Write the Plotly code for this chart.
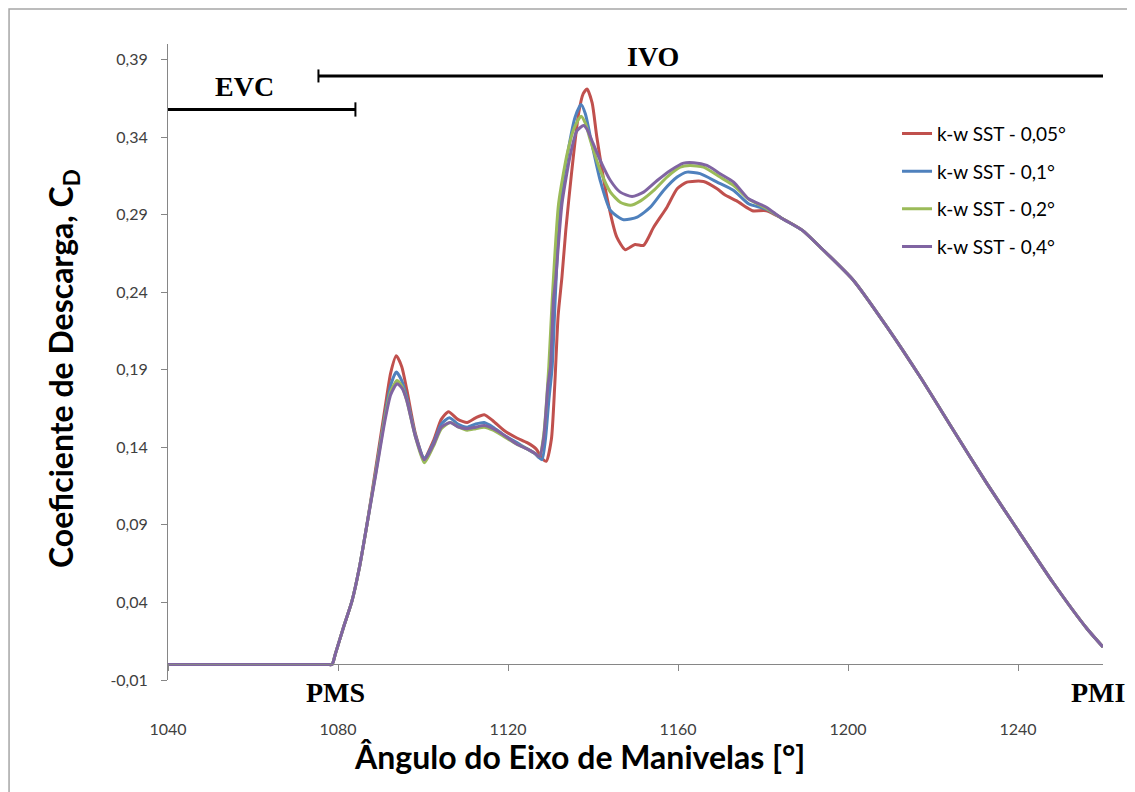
import plotly.graph_objects as go

# ---- data ----
series_names = ["k-w SST - 0,05°", "k-w SST - 0,1°", "k-w SST - 0,2°", "k-w SST - 0,4°"]
series_colors = ["#C0504D", "#4F81BD", "#9BBB59", "#8064A2"]

# shared start (closed valves) and shared tail (all meshes agree)
angle_start = [1040, 1077.5, 1078.6, 1079.4, 1081.3, 1083.3, 1085.0, 1086.8]
cd_start = [0.0, 0.0, 0.0, 0.007, 0.024, 0.041, 0.062, 0.090]
angle_tail = [1184.2, 1189.2, 1193.5, 1201.3, 1209.2, 1217.0, 1224.8, 1232.7, 1240.5, 1248.4, 1256.2, 1260.0]
cd_tail = [0.288, 0.280, 0.269, 0.2476, 0.2175, 0.1853, 0.151, 0.1166, 0.0844, 0.0522, 0.0232, 0.0113]

angle_005 = [1088.8, 1091.1, 1092.4, 1093.7, 1095.0, 1096.2, 1098.2, 1100.3, 1102.5, 1104.3, 1106.0,
             1108.2, 1110.4, 1112.4, 1114.4, 1116.5, 1119.0, 1122.1, 1124.5, 1126.6, 1128.0, 1129.0,
             1130.2, 1131.0, 1131.8, 1132.7, 1133.6, 1135.0, 1136.6, 1137.7, 1138.6, 1139.8, 1140.9,
             1143.3, 1145.6, 1147.6, 1149.9, 1151.9, 1154.3, 1157.4, 1159.8, 1162.1, 1166.0, 1169.2,
             1171.0, 1173.7, 1176.2, 1177.5, 1180.8]
cd_005 = [0.125, 0.166, 0.188, 0.199, 0.192, 0.177, 0.149, 0.133, 0.1445, 0.158, 0.163,
          0.158, 0.156, 0.159, 0.161, 0.157, 0.151, 0.146, 0.143, 0.139, 0.133, 0.131,
          0.145, 0.180, 0.225, 0.250, 0.280, 0.318, 0.355, 0.368, 0.371, 0.362, 0.340,
          0.301, 0.2755, 0.2674, 0.2708, 0.2702, 0.282, 0.2948, 0.3067, 0.311, 0.3114, 0.3067,
          0.3028, 0.299, 0.2945, 0.2925, 0.2925]

angle_01 = [1088.8, 1091.1, 1092.4, 1093.7, 1095.0, 1096.2, 1098.2, 1100.3, 1102.5, 1104.3, 1106.2,
            1108.2, 1110.4, 1112.4, 1114.4, 1116.5, 1119.0, 1122.1, 1124.5, 1126.3, 1127.2, 1128.0,
            1128.8, 1129.6, 1130.4, 1131.1, 1132.3, 1134.3, 1135.8, 1137.2, 1138.2, 1139.4, 1141.7,
            1144.1, 1147.2, 1150.4, 1153.5, 1156.6, 1159.8, 1162.1, 1165.2, 1169.2, 1173.1, 1176.6,
            1180.8]
cd_01 = [0.123, 0.162, 0.180, 0.1885, 0.183, 0.172, 0.148, 0.133, 0.143, 0.155, 0.159,
         0.155, 0.153, 0.155, 0.156, 0.153, 0.148, 0.143, 0.139, 0.136, 0.1335, 0.132,
         0.145, 0.170, 0.192, 0.235, 0.297, 0.3335, 0.353, 0.361, 0.355, 0.340, 0.312,
         0.2927, 0.2867, 0.2884, 0.2948, 0.3056, 0.3142, 0.3174, 0.3164, 0.311, 0.3056, 0.297,
         0.2935]

angle_02 = [1088.8, 1091.1, 1092.4, 1093.9, 1095.1, 1096.2, 1098.2, 1100.3, 1102.5, 1104.3, 1106.4,
            1108.4, 1110.4, 1112.4, 1114.4, 1116.5, 1119.0, 1122.1, 1124.5, 1126.4, 1127.4, 1128.4,
            1129.6, 1130.4, 1131.9, 1133.9, 1135.6, 1137.2, 1138.2, 1139.4, 1141.7, 1144.1, 1146.4,
            1148.8, 1151.1, 1154.3, 1157.4, 1160.5, 1162.8, 1166.0, 1169.9, 1173.1, 1176.6, 1180.8]
cd_02 = [0.122, 0.160, 0.176, 0.183, 0.179, 0.170, 0.147, 0.130, 0.141, 0.152, 0.156,
         0.153, 0.151, 0.152, 0.153, 0.151, 0.147, 0.142, 0.139, 0.136, 0.134, 0.148,
         0.192, 0.235, 0.297, 0.329, 0.346, 0.3535, 0.349, 0.3378, 0.3185, 0.3045, 0.298,
         0.296, 0.2987, 0.3056, 0.3142, 0.3206, 0.3217, 0.3206, 0.3142, 0.3088, 0.300, 0.294]

angle_04 = [1088.8, 1091.1, 1092.4, 1093.9, 1095.1, 1096.2, 1098.2, 1100.3, 1102.5, 1104.3, 1106.4,
            1108.4, 1110.4, 1112.4, 1114.4, 1116.5, 1119.0, 1122.1, 1124.5, 1126.4, 1127.4, 1128.4,
            1129.4, 1130.0, 1130.7, 1131.2, 1132.7, 1134.7, 1136.2, 1137.8, 1138.6, 1139.4, 1141.7,
            1144.1, 1146.4, 1149.2, 1151.9, 1155.1, 1158.2, 1161.3, 1163.7, 1166.8, 1169.9, 1173.1,
            1176.6, 1180.8]
cd_04 = [0.121, 0.158, 0.174, 0.181, 0.178, 0.170, 0.147, 0.132, 0.142, 0.153, 0.156,
         0.153, 0.152, 0.153, 0.154, 0.152, 0.148, 0.142, 0.139, 0.136, 0.134, 0.146,
         0.180, 0.192, 0.235, 0.2476, 0.297, 0.329, 0.344, 0.3475, 0.345, 0.340, 0.325,
         0.312, 0.3045, 0.3017, 0.3045, 0.312, 0.3185, 0.3232, 0.3235, 0.3217, 0.3164, 0.311,
         0.3002, 0.2948]

series_angles = [angle_005, angle_01, angle_02, angle_04]
series_cd = [cd_005, cd_01, cd_02, cd_04]

x_ticks = [1040, 1080, 1120, 1160, 1200, 1240]
y_ticks = [-0.01, 0.04, 0.09, 0.14, 0.19, 0.24, 0.29, 0.34, 0.39]
y_tick_labels = ["-0,01", "0,04", "0,09", "0,14", "0,19", "0,24", "0,29", "0,34", "0,39"]

# valve event bars (EVC = exhaust valve closing, IVO = intake valve open)
evc_span = [1040, 1084.1]
evc_level = 0.3578
ivo_span = [1075.4, 1260]
ivo_level = 0.3794

fig = go.Figure()

for name, color, ang, cd in zip(series_names, series_colors, series_angles, series_cd):
    fig.add_trace(go.Scatter(
        x=angle_start + ang + angle_tail,
        y=cd_start + cd + cd_tail,
        mode="lines",
        name=name,
        legendgroup=name,
        line=dict(color=color, width=3, shape="spline", smoothing=0.6),
    ))

# EVC / IVO bars with end caps
bar_line = dict(color="black", width=3)
cap_line = dict(color="black", width=2)
fig.add_shape(type="line", x0=evc_span[0], x1=evc_span[1], y0=evc_level, y1=evc_level, line=bar_line)
fig.add_shape(type="line", x0=evc_span[1], x1=evc_span[1], y0=evc_level - 0.0046, y1=evc_level + 0.0046,
              line=cap_line)
fig.add_shape(type="line", x0=ivo_span[0], x1=ivo_span[1], y0=ivo_level, y1=ivo_level, line=bar_line)
fig.add_shape(type="line", x0=ivo_span[0], x1=ivo_span[0], y0=ivo_level - 0.0042, y1=ivo_level + 0.0042,
              line=cap_line)

# chart area border (left and top edges visible)
fig.add_shape(type="rect", xref="paper", yref="paper", x0=-0.1700, x1=1.2, y0=-0.4, y1=1.0550,
              line=dict(color="#A6A6A6", width=1.5), layer="below")

serif = dict(family="Liberation Serif", size=28, color="black")
for txt, xv, yv in [("EVC", 1058, 0.3726), ("IVO", 1154.2, 0.392)]:
    fig.add_annotation(x=xv, y=yv, text=f"<b>{txt}</b>", showarrow=False, font=serif,
                       xanchor="center", yanchor="middle")
for txt, xv in [("PMS", 1079.4), ("PMI", 1258.8)]:
    fig.add_annotation(x=xv, y=-0.0189, yref="paper", text=f"<b>{txt}</b>", showarrow=False,
                       font=serif, xanchor="center", yanchor="middle")

title_font = dict(family="Lato", size=32, color="black")
fig.add_annotation(x=0.4406, y=-0.121, xref="paper", yref="paper", showarrow=False,
                   xanchor="center", yanchor="middle",
                   text="<b>Ângulo do Eixo de Manivelas [°]</b>", font=title_font)
fig.add_annotation(x=-0.1123, y=0.4906, xref="paper", yref="paper", showarrow=False, textangle=-90,
                   xanchor="center", yanchor="middle",
                   text="<b>Coeficiente de Descarga, C<sub>D</sub></b>", font=title_font)

fig.update_layout(
    width=1127, height=784,
    margin=dict(l=160, r=32, t=36, b=112),
    paper_bgcolor="white", plot_bgcolor="white",
    font=dict(family="Lato", size=16, color="#404040"),
    showlegend=True,
    legend=dict(x=0.7797, y=0.889, xanchor="left", yanchor="top", tracegroupgap=10,
                font=dict(family="Lato", size=19, color="black"), bgcolor="rgba(0,0,0,0)"),
    xaxis=dict(range=[1040, 1260], tickvals=x_ticks, showgrid=False, zeroline=False,
               showline=True, linecolor="#868686", linewidth=1, ticks="outside", ticklen=6,
               tickcolor="#868686", anchor="free", position=0.01 / 0.41, ticklabelstandoff=44),
    yaxis=dict(range=[-0.01, 0.40], tickvals=y_ticks, ticktext=y_tick_labels, showgrid=False,
               zeroline=False, showline=True, linecolor="#868686", linewidth=1, ticks="outside",
               ticklen=6, tickcolor="#868686", ticklabelstandoff=10),
)

fig.write_html("out.html")
